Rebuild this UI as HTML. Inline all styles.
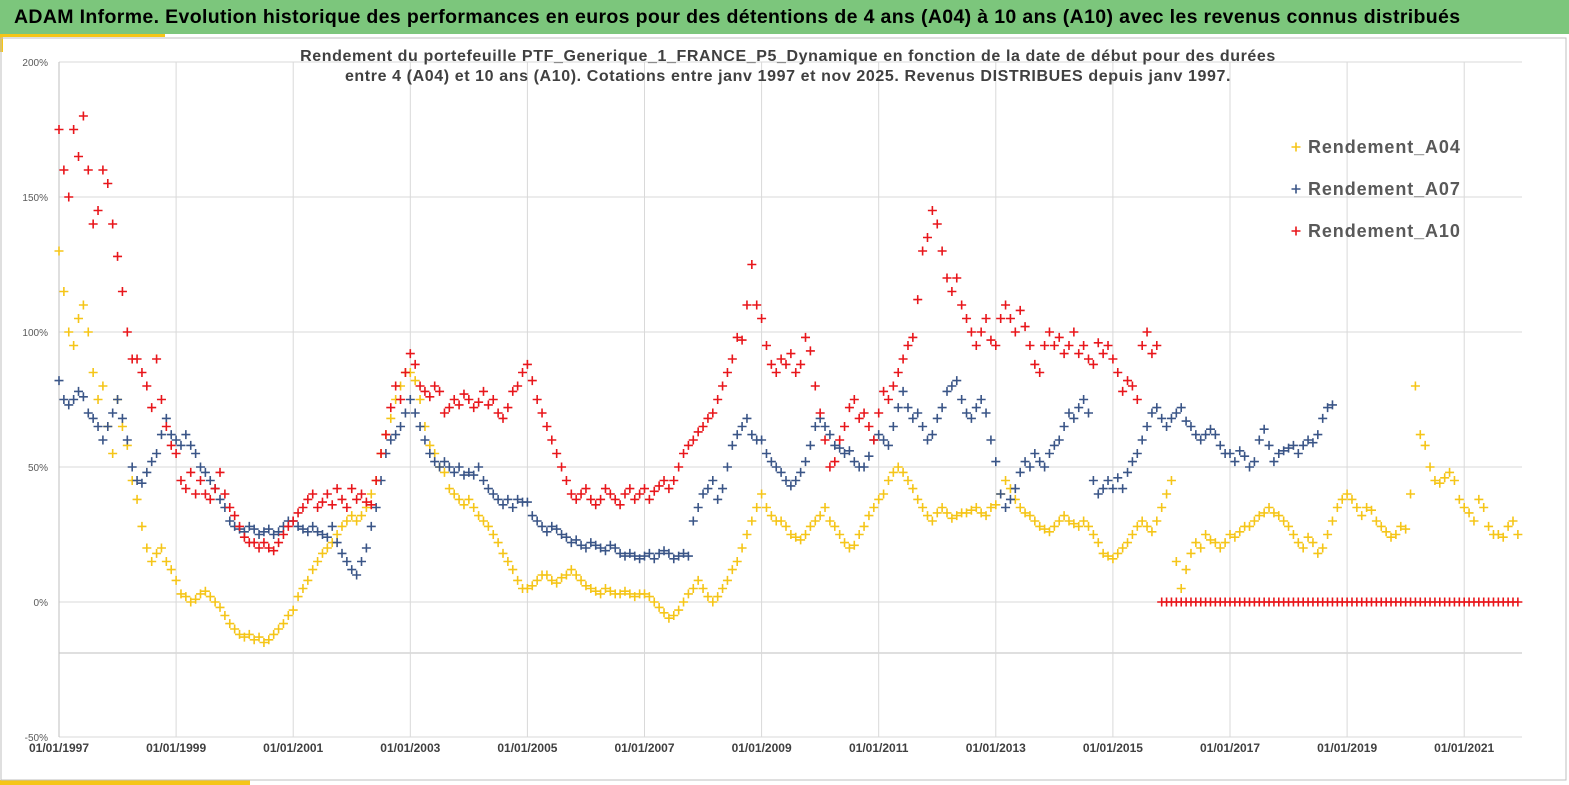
<!DOCTYPE html>
<html><head><meta charset="utf-8">
<style>
body{margin:0;width:1569px;height:785px;overflow:hidden;background:#fff;font-family:"Liberation Sans",sans-serif;}
#title{position:absolute;left:0;top:0;width:1569px;height:34px;background:#7cc67c;}
#title span{position:absolute;left:14px;top:6px;font-size:19.5px;font-weight:bold;color:#000;white-space:nowrap;letter-spacing:0.35px}
</style></head><body>
<div id="title"><span>ADAM Informe. Evolution historique des performances en euros pour des détentions de 4 ans (A04) à 10 ans (A10) avec les revenus connus distribués</span></div>
<div style="position:absolute;left:0;top:34px;width:165px;height:3px;background:#f5c518"></div>
<div style="position:absolute;left:0;top:34px;width:3px;height:18px;background:#f5c518"></div>
<div style="position:absolute;left:0;top:780px;width:250px;height:5px;background:#f5c518"></div>
<svg id="chart" width="1569" height="785" style="position:absolute;left:0;top:0">
<rect x="1" y="38" width="1565" height="742" fill="none" stroke="#bfbfbf"/>
<g id="grid"></g><g id="marks"></g>
<text x="788" y="61" text-anchor="middle" font-size="16" letter-spacing="0.6" font-weight="bold" fill="#404040">Rendement du portefeuille PTF_Generique_1_FRANCE_P5_Dynamique  en fonction de la date de début pour des durées</text>
<text x="788" y="81" text-anchor="middle" font-size="16" letter-spacing="0.6" font-weight="bold" fill="#404040">entre 4 (A04) et 10 ans (A10). Cotations  entre janv 1997 et nov 2025. Revenus DISTRIBUES depuis janv 1997.</text>
<g id="legend"></g>
</svg>
<script>
const yTicks=[200,150,100,50,0,-50];
const xTickYears=[1997,1999,2001,2003,2005,2007,2009,2011,2013,2015,2017,2019,2021];
const seriesNames=["Rendement_A04","Rendement_A07","Rendement_A10"];
const a04=[130,115,100,95,105,110,100,85,75,80,65,55,
75,65,58,45,38,28,20,15,18,20,15,12,
8,3,2,0,1,3,4,2,0,-2,-5,-8,
-10,-12,-13,-12,-14,-13,-15,-14,-12,-10,-8,-5,
-3,2,5,8,12,15,18,20,22,25,28,30,
32,30,32,35,40,45,55,62,68,75,80,85,
85,82,75,65,58,55,50,48,42,40,38,36,
38,35,32,30,28,25,22,18,15,12,8,5,
5,6,8,10,10,8,7,9,10,12,10,8,
6,5,4,3,5,4,3,3,4,3,2,3,
3,2,0,-2,-4,-6,-5,-3,0,3,5,8,
5,2,0,2,5,8,12,15,20,25,30,35,
40,35,32,30,30,28,25,24,23,25,28,30,
32,35,30,28,25,22,20,21,25,28,32,35,
38,40,45,48,50,48,45,42,38,35,32,30,
33,35,33,31,32,33,33,34,35,33,32,35,
36,40,45,42,38,35,33,32,30,28,27,26,
28,30,32,30,29,28,30,28,25,22,18,17,
16,18,20,22,25,28,30,28,26,30,35,40,
45,15,5,12,18,22,20,25,23,22,20,22,
25,24,26,28,28,30,32,33,35,33,32,30,
28,25,22,20,24,22,18,20,25,30,35,38,
40,38,35,32,35,34,30,28,26,24,25,28,
27,40,80,62,58,50,45,44,46,48,45,38,
35,33,30,38,35,28,25,25,24,28,30,25];
const a07=[82,75,73,75,78,76,70,68,65,60,65,70,
75,68,60,50,45,44,48,52,55,62,68,62,
60,58,62,58,55,50,48,45,42,38,35,30,
28,27,26,28,27,25,26,27,25,26,28,30,
30,28,27,26,28,26,25,24,28,22,18,15,
12,10,15,20,28,35,45,55,60,62,65,70,
75,70,65,60,55,52,50,52,50,48,50,47,
48,47,50,45,42,40,38,36,38,35,38,37,
37,32,30,28,26,28,27,25,24,22,23,21,
20,22,21,20,19,21,20,18,17,18,17,16,
17,18,16,18,19,18,16,17,18,17,30,35,
40,42,45,38,42,50,58,62,65,68,62,60,
60,55,52,50,48,45,43,45,48,52,58,65,
68,65,62,58,57,55,56,52,50,50,54,60,
62,60,58,65,72,78,72,68,70,65,60,62,
68,72,78,80,82,75,70,68,72,75,70,60,
52,40,35,38,42,48,52,50,55,52,50,55,
58,60,65,70,68,72,75,70,45,40,42,45,
42,46,42,48,52,55,60,65,70,72,68,65,
68,70,72,67,65,62,60,62,64,62,58,55,
55,52,56,54,50,52,60,64,58,52,55,56,
57,58,55,58,60,59,62,68,72,73];
const a10=[175,160,150,175,165,180,160,140,145,160,155,140,
128,115,100,90,90,85,80,72,90,75,65,58,
55,45,42,48,40,45,40,38,42,48,40,35,
32,28,24,22,22,20,22,20,19,22,25,28,
30,33,35,38,40,35,37,40,36,42,38,35,
42,38,40,37,36,45,55,62,72,80,75,85,
92,88,80,78,76,80,78,70,72,75,73,77,
75,72,74,78,73,75,70,68,72,78,80,85,
88,82,75,70,65,60,55,50,45,40,38,40,
42,38,36,38,42,40,38,36,40,42,38,40,
42,38,41,43,45,42,45,50,55,58,60,63,
65,68,70,75,80,85,90,98,97,110,125,110,
105,95,88,85,90,88,92,85,88,98,93,80,
70,60,50,52,60,65,72,75,68,70,65,60,
70,78,75,80,85,90,95,98,112,130,135,145,
140,130,120,115,120,110,105,100,95,100,105,97,
95,105,110,105,100,108,102,95,88,85,95,100,
95,98,92,95,100,92,95,90,88,96,92,95,
90,85,78,82,80,75,95,100,92,95,
0,0,0,0,0,0,0,0,0,0,0,0,0,0,0,0,0,0,0,0,0,0,0,0,0,0,0,0,0,0,0,0,0,0,0,0,
0,0,0,0,0,0,0,0,0,0,0,0,0,0,0,0,0,0,0,0,0,0,0,0,0,0,0,0,0,0,0,0,0,0,0,0,0,0];
const colors=["#f5c518","#3a5587","#e8161b"];
const NS="http://www.w3.org/2000/svg";
const X0=59,X1=1522,Y200=62,Y0=602;
function xScale(yr){return X0+(yr-1997)*58.55;}
function yScale(v){return Y0-(v)*(Y0-Y200)/200;}
function mk(tag,attrs,parent){const e=document.createElementNS(NS,tag);for(const k in attrs)e.setAttribute(k,attrs[k]);parent.appendChild(e);return e;}
const grid=document.getElementById('grid');
yTicks.forEach(t=>{
  const l=mk('line',{x1:X0,x2:X1,y1:yScale(t),y2:yScale(t),stroke:'#d9d9d9'},grid);
  
  
  const tx=mk('text',{x:48,y:yScale(t)+4,'text-anchor':'end','font-size':'10',fill:'#595959'},grid);
  tx.textContent=t+'%';
  
  
});
const ax=mk('line',{x1:X0,x2:X1,y1:653,y2:653,stroke:'#bfbfbf'},grid);


xTickYears.forEach(yr=>{
  const x=xScale(yr);
  const l=mk('line',{x1:x,x2:x,y1:Y200,y2:737,stroke:yr===1997?'#bfbfbf':'#d9d9d9'},grid);
  
  
  const tx=mk('text',{x:x,y:752,'text-anchor':'middle','font-size':'12','font-weight':'bold',fill:'#404040'},grid);
  tx.textContent='01/01/'+yr;
  
  
});
const marks=document.getElementById('marks');
function plus(x,y,c,p){
  const d=`M${x-4.5},${y}H${x+4.5}M${x},${y-4.5}V${y+4.5}`;
  return mk('path',{d:d,stroke:c,'stroke-width':1.6,fill:'none'},p);
}
[[a04,0],[a07,1],[a10,2]].forEach(([arr,si])=>{
  const g=mk('g',{},marks);
  
  
  arr.forEach((v,i)=>{
    const p=plus(xScale(1997+i/12),yScale(v),colors[si],g);
    
    
  });
});
const lg=document.getElementById('legend');
seriesNames.forEach((n,i)=>{
  const y=147+i*42;
  const p=plus(1296,y,colors[i],lg);
  
  
  const t=mk('text',{x:1308,y:y+6,'font-size':'18','font-weight':'bold','letter-spacing':'0.9',fill:'#595959'},lg);
  t.textContent=n;
  
  
});
</script>
</body></html>
